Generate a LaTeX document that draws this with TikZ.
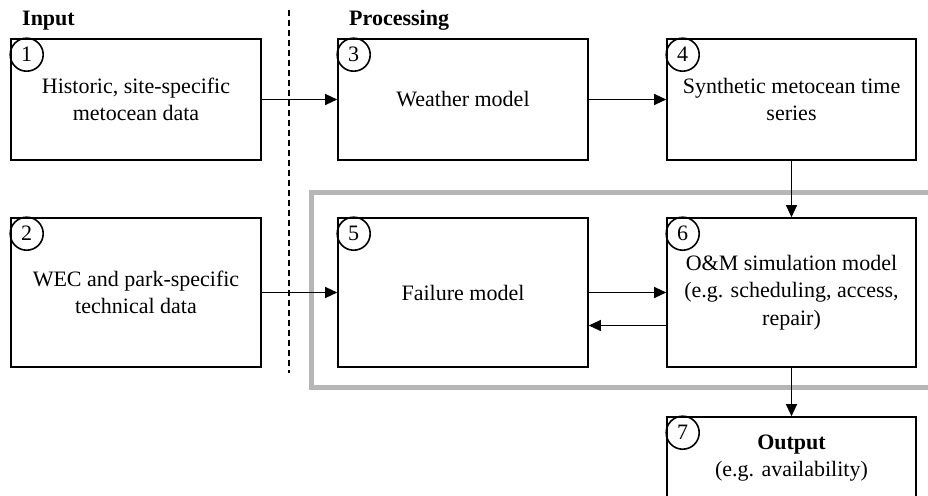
\documentclass[tikz,border=0pt]{standalone}
\usepackage{fontspec}
\setmainfont{Liberation Serif}
\usetikzlibrary{arrows.meta,calc}
\begin{document}
\begin{tikzpicture}[x=1pt,y=-1pt,
  font=\fontsize{22}{27.5}\selectfont,
  box/.style={draw=black,line width=1.6pt,fill=white,rectangle,inner sep=0pt,align=center},
  numc/.style={draw=black,line width=1.6pt,circle,minimum size=33pt,inner sep=0pt},
  arr/.style={line width=1.2pt,-{Triangle[length=12pt,width=11pt]}},
  frame/.style={draw={rgb,255:red,182;green,182;blue,182},line width=5pt},
  sep/.style={line width=1.4pt,dash pattern=on 6pt off 4pt},
  head/.style={font=\fontsize{22}{27.5}\selectfont\bfseries,anchor=base west,inner sep=0pt}]
\useasboundingbox (0,0) rectangle (928,495);
\clip (0,0) rectangle (928,495);
% gray frame
\draw[frame] (311,192) rectangle (945,387);
% dashed separator
\coordinate (dtop) at (289,10);
\coordinate (dbot) at (289,373);
\draw[sep] (dtop) -- (dbot);
% headings
\node[head] (hin) at (22,26) {Input};
\node[head] (hpr) at (349,26) {Processing};
% boxes
\node[box,minimum width=250pt,minimum height=121pt] (b1) at (136,99.5) {Historic, site-specific\\metocean data};
\node[box,minimum width=250pt,minimum height=121pt] (b3) at (463,99.5) {Weather model};
\node[box,minimum width=249pt,minimum height=121pt] (b4) at (791.5,99.5) {Synthetic metocean time\\series};
\node[box,minimum width=250pt,minimum height=149pt] (b2) at (136,292.5) {WEC and park-specific\\technical data};
\node[box,minimum width=250pt,minimum height=149pt] (b5) at (463,292.5) {Failure model};
\node[box,minimum width=249pt,minimum height=149pt] (b6) at (791.5,292.5) {O\&M simulation model\\(e.g. scheduling, access,\\repair)};
\node[box,minimum width=249pt,minimum height=110pt] (b7) at (791.5,472) {};
\node[align=center,inner sep=0pt] (t7) at (791.5,458) {\textbf{Output}\\(e.g. availability)};
% number circles
\node[numc] (n1) at ([xshift=16.5pt,yshift=-16.5pt]b1.north west) {1};
\node[numc] (n2) at ([xshift=16.5pt,yshift=-16.5pt]b2.north west) {2};
\node[numc] (n3) at ([xshift=16.5pt,yshift=-16.5pt]b3.north west) {3};
\node[numc] (n4) at ([xshift=16.5pt,yshift=-16.5pt]b4.north west) {4};
\node[numc] (n5) at ([xshift=16.5pt,yshift=-16.5pt]b5.north west) {5};
\node[numc] (n6) at ([xshift=16.5pt,yshift=-16.5pt]b6.north west) {6};
\node[numc] (n7) at ([xshift=16.5pt,yshift=-16.5pt]b7.north west) {7};
% connectors
\draw[arr] (b1.east) -- (b3.west);
\draw[arr] (b3.east) -- (b4.west);
\draw[arr] (b4.south) -- (b6.north);
\draw[arr] (b2.east) -- (b5.west);
\draw[arr] (b5.east) -- (b6.west);
\draw[arr] ([yshift=-33pt]b6.west) -- ([yshift=-33pt]b5.east);
\draw[arr] (b6.south) -- (b7.north);
\end{tikzpicture}
\end{document}
